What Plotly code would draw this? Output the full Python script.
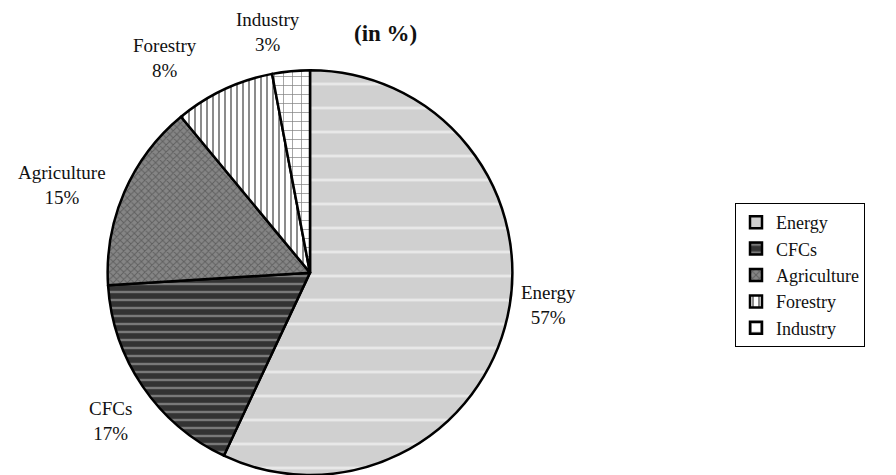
import plotly.graph_objects as go

categories = ["Energy", "CFCs", "Agriculture", "Forestry", "Industry"]
values = [57, 17, 15, 8, 3]
title_text = "(in %)"

bg_colors = ["#d0d0d0", "#333333", "#858585", "#ffffff", "#ffffff"]
fg_colors = ["#ffffff", "#c0c0c0", "#3a3a3a", "#000000", "#000000"]
shapes = ["-", "-", "x", "|", "+"]
sizes = [24, 8, 5, 6, 9]
solid = [0.12, 0.3, 0.35, 0.3, 0.15]

fig = go.Figure(go.Pie(
    labels=categories,
    values=values,
    sort=False,
    direction="clockwise",
    rotation=0,
    textinfo="none",
    hoverinfo="label+percent",
    marker=dict(
        colors=bg_colors,
        line=dict(color="#000000", width=2.5),
        pattern=dict(shape=shapes, fgcolor=fg_colors, bgcolor=bg_colors,
                     size=sizes, solidity=solid, fillmode="overlay"),
    ),
    domain=dict(x=[106/896, 514/896], y=[0.0, 0.852]),
))

# outside labels (positions are layout choices; text from data)
label_pos = {
    "Energy": (548/896, 1-305/475),
    "CFCs": (110/896, 1-421/475),
    "Agriculture": (62/896, 1-185/475),
    "Forestry": (165/896, 1-58/475),
    "Industry": (268/896, 1-32/475),
}
annotations = []
for c, v in zip(categories, values):
    x, y = label_pos[c]
    annotations.append(dict(x=x, y=y, xref="paper", yref="paper",
                            xanchor="center", yanchor="middle",
                            text=f"{c}<br>{v}%", showarrow=False,
                            font=dict(family="Liberation Serif", size=19, color="#111")))
annotations.append(dict(x=385/896, y=1-33/475, xref="paper", yref="paper",
                        xanchor="center", yanchor="middle",
                        text=f"<b>{title_text}</b>", showarrow=False,
                        font=dict(family="Liberation Serif", size=23, color="#111")))

fig.update_layout(
    width=896, height=475,
    margin=dict(l=0, r=0, t=0, b=0),
    paper_bgcolor="white", plot_bgcolor="white",
    showlegend=True,
    legend=dict(x=735/896, y=1-203/475, xanchor="left", yanchor="top",
                bordercolor="#000", borderwidth=1, bgcolor="white",
                font=dict(family="Liberation Serif", size=18, color="#111"),
                itemwidth=30, tracegroupgap=0),
    annotations=annotations,
)

fig.write_html("out.html", config={"displayModeBar": False},
               post_script="document.body.style.margin='0';document.body.style.overflow='hidden';")
